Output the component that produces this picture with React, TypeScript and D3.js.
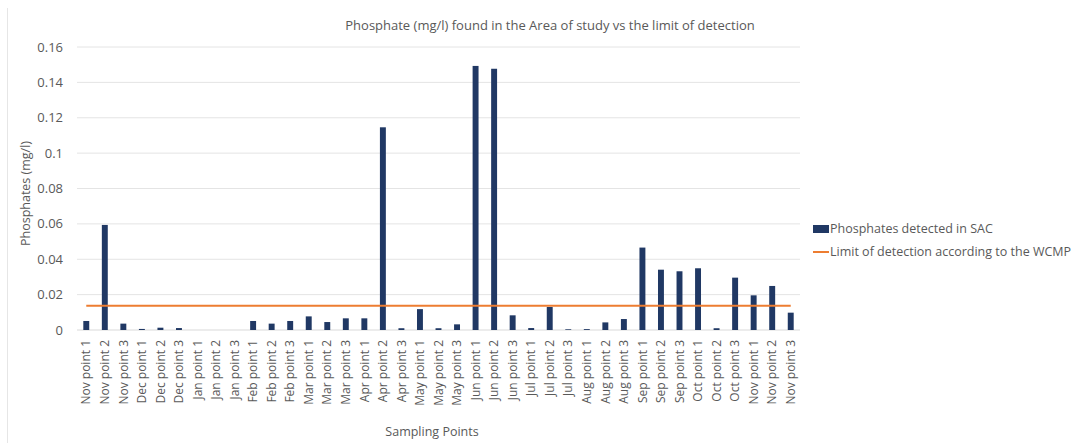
import React from "react";
import * as d3 from "d3";

const months = ["Nov", "Dec", "Jan", "Feb", "Mar", "Apr", "May", "Jun", "Jul", "Aug", "Sep", "Oct", "Nov"];
const categories: string[] = months.flatMap((m) => [1, 2, 3].map((p) => `${m} point ${p}`));
const phosphates: number[] = [
  0.0051, 0.0594, 0.0036,
  0.0006, 0.0013, 0.0011,
  0, 0, 0,
  0.0051, 0.0036, 0.0051,
  0.0077, 0.0045, 0.0066,
  0.0066, 0.1146, 0.001,
  0.0118, 0.001, 0.0032,
  0.1493, 0.1477, 0.0083,
  0.0011, 0.013, 0.0004,
  0.0005, 0.0043, 0.0062,
  0.0466, 0.0341, 0.0332,
  0.0349, 0.001, 0.0296,
  0.0196, 0.0249, 0.0098,
];
const limitValue = 0.0137;
const yTicks = [0, 0.02, 0.04, 0.06, 0.08, 0.1, 0.12, 0.14, 0.16];

const W = 1082, H = 443;
const left = 77, right = 800, top = 47, bottom = 330;
const FONT = "Open Sans, Noto Sans, sans-serif";
const TXT = "#595959";

export default function App() {
  const x = d3.scaleBand<number>().domain(d3.range(categories.length)).range([left, right]).paddingInner(0.68).paddingOuter(0.34);
  const y = d3.scaleLinear().domain([0, 0.16]).range([bottom, top]);
  const center = (i: number) => (x(i) as number) + x.bandwidth() / 2;
  const line = d3.line<number>().x((_, i) => center(i)).y(() => y(limitValue));

  return (
    <svg width={W} height={H} style={{ position: "absolute", left: 0, top: 0, background: "#fff" }} fontFamily={FONT}>
      <line x1={7.5} x2={7.5} y1={8} y2={H} stroke="#e6e6e6" />
      <text x={550} y={25} dy="0.35em" textAnchor="middle" fontSize={13} fill={TXT}>
        Phosphate (mg/l) found in the Area of study vs the limit of detection
      </text>
      {yTicks.map((t) => (
        <g key={t}>
          <line x1={left} x2={right} y1={y(t)} y2={y(t)} stroke={t === 0 ? "#d9d9d9" : "#e4e4e4"} strokeWidth={1} />
          <text x={63} y={y(t)} dy="0.35em" textAnchor="end" fontSize={13} fill={TXT}>
            {String(t)}
          </text>
        </g>
      ))}
      {phosphates.map((v, i) => (
        <rect key={i} x={x(i)} y={y(v)} width={x.bandwidth()} height={bottom - y(v)} fill="#203864" />
      ))}
      <path d={line(phosphates) || ""} fill="none" stroke="#ED7D31" strokeWidth={2.2} />
      {categories.map((c, i) => (
        <text
          key={i}
          transform={`translate(${center(i)},${bottom + 10}) rotate(-90)`}
          textAnchor="end"
          dy="0.35em"
          fontSize={12}
          fill={TXT}
        >
          {c}
        </text>
      ))}
      <text x={432} y={436} textAnchor="middle" fontSize={12.5} fill={TXT}>
        Sampling Points
      </text>
      <text transform={`translate(30,${(top + bottom) / 2 + 5}) rotate(-90)`} textAnchor="middle" fontSize={12.5} fill={TXT}>
        Phosphates (mg/l)
      </text>
      <rect x={813} y={225} width={16} height={8} fill="#203864" />
      <text x={830} y={229} dy="0.35em" fontSize={12.5} fill={TXT}>Phosphates detected in SAC</text>
      <line x1={813} x2={829} y1={252} y2={252} stroke="#ED7D31" strokeWidth={2} />
      <text x={830} y={252} dy="0.35em" fontSize={12.5} fill={TXT}>Limit of detection according to the WCMP</text>
    </svg>
  );
}
